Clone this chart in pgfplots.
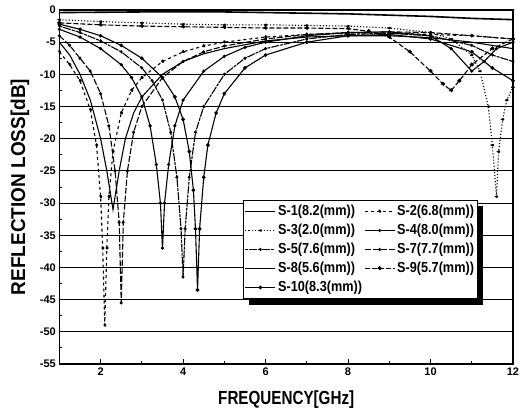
\documentclass[border=0pt]{standalone}
\usepackage{fontspec}
\setmainfont{Liberation Sans}
\newfontfamily\condx[FakeStretch=0.8]{Liberation Sans}
\newfontfamily\condy[FakeStretch=0.95]{Liberation Sans}
\newfontfamily\condl[FakeStretch=0.875]{Liberation Sans}
\usepackage{pgfplots}
\pgfplotsset{compat=1.18}
\begin{document}
\begin{tikzpicture}
\useasboundingbox (-59.4pt,-52pt) rectangle (463.6pt,364pt);
\begin{axis}[
  name=ax,
  scale only axis,
  width=453.6pt, height=354pt,
  xmin=1, xmax=12, ymin=-55, ymax=0,
  xtick={2,4,6,8,10,12},
  minor xtick={1,3,5,7,9,11},
  ytick={-55,-50,...,0},
  yticklabels={-55,-50,-45,-40,-35,-30,-25,-20,-15,-10,-5,0},
  minor ytick={-52.5,-47.5,...,-2.5},
  ymajorgrids,
  major grid style={black, line width=1pt},
  tick align=inside,
  major tick length=5pt, minor tick length=3pt,
  every tick/.style={black, line width=1pt},
  xtick pos=bottom, ytick pos=left,
  axis line style={line width=1.3pt},
  tick label style={font=\fontsize{11}{12}\selectfont\bfseries},
  /pgf/number format/assume math mode=true,
  xlabel={\condx\bfseries FREQUENCY[GHz]},
  ylabel={\condy\bfseries REFLECTION LOSS[dB]},
  xlabel style={font=\fontsize{19}{20}\selectfont, at={(axis description cs:0.5,0)}, anchor=center, yshift=-36pt},
  ylabel style={font=\fontsize{20}{21}\selectfont, at={(axis description cs:0,0.5)}, anchor=center, yshift=39.5pt},
  legend columns=2,
  legend style={name=leg, at={(0.405,0.4633)}, anchor=north west, draw=black, line width=0.9pt,
    font=\fontsize{14.5}{15}\selectfont\condl\bfseries, fill=white,
    inner xsep=1pt, inner ysep=3pt, row sep=3pt,
    /tikz/every even column/.append style={column sep=0pt}},
  legend cell align=left,
  legend image code/.code={\draw[mark repeat=2,mark phase=2] plot coordinates {(0pt,0pt) (15pt,0pt) (30pt,0pt)};},
  every axis plot/.append style={black, line width=1.1pt},
  mark size=1.3pt,
]
% S-1
\addplot[solid] coordinates {(1,-5)(1.25,-7)(1.5,-10)(1.75,-14)(2,-20)(2.15,-25)(2.3,-31)(2.45,-25)(2.6,-20)(2.8,-16)(3,-13.5)(3.5,-10)(4,-8)(4.5,-6.8)(5,-6)(6,-4.8)(7,-4.2)(8,-4)(9,-4)(10,-4.3)(11,-5)(12,-6)};
\addlegendentry{S-1(8.2(mm))}
% S-2
\addplot[dashed, mark=*] coordinates {(1,-6.5)(1.25,-8.5)(1.5,-11)(1.75,-15.5)(1.9,-21)(2.0,-29)(2.05,-37)(2.1,-49)(2.15,-37)(2.2,-29)(2.3,-22)(2.5,-16)(2.75,-12.5)(3,-10.5)(3.5,-8)(4,-6.5)(4.5,-5.6)(5,-5)(6,-4.2)(7,-3.8)(8,-3.6)(9,-3.6)(10,-3.8)(11,-4)(12,-4.5)};
\addlegendentry{S-2(6.8(mm))}
% S-3
\addplot[dotted, mark=*] coordinates {(1,-1.5)(2,-1.8)(3,-2)(4,-2.2)(5,-2.3)(6,-2.3)(7,-2.4)(8,-2.5)(9,-2.8)(10,-3.5)(10.5,-4.5)(11,-7)(11.2,-9.5)(11.4,-15)(11.5,-21)(11.6,-29)(11.65,-22)(11.75,-17)(11.85,-14)(12,-12)};
\addlegendentry{S-3(2.0(mm))}
% S-4
\addplot[solid, mark=*, mark size=1pt] coordinates {(1,-3)(1.5,-4.2)(2,-6)(2.5,-8.5)(2.75,-10.5)(3,-13.5)(3.2,-18)(3.35,-24)(3.45,-30)(3.5,-37)(3.55,-30)(3.65,-24)(3.8,-18)(4,-14)(4.5,-9.5)(5,-7.2)(5.5,-5.8)(6,-5)(7,-4)(8,-3.5)(9,-3.4)(10,-4)(10.5,-6)(11,-9.5)(11.3,-8)(11.6,-6)(12,-5)};
\addlegendentry{S-4(8.0(mm))}
% S-5
\addplot[dash pattern=on 3pt off 1pt on 8pt off 1pt, mark=*, mark size=1pt] coordinates {(1,-2.5)(1.5,-3.5)(2,-4.8)(2.5,-6.5)(3,-9)(3.25,-11)(3.5,-14)(3.7,-19)(3.85,-26)(3.95,-34)(4.0,-41.5)(4.05,-34)(4.15,-26)(4.3,-19)(4.5,-15)(5,-10)(5.5,-7.5)(6,-6)(7,-4.5)(8,-3.8)(9,-3.6)(10,-4)(11,-5.5)(11.5,-7)(12,-8)};
\addlegendentry{S-5(7.6(mm))}
% S-7
\addplot[dash pattern=on 6pt off 2pt, mark=*, mark size=1pt] coordinates {(1,-4)(1.25,-5.5)(1.5,-7.5)(1.75,-9.5)(2,-13)(2.2,-18)(2.35,-25)(2.45,-33)(2.5,-45.5)(2.55,-33)(2.65,-25)(2.8,-19)(3,-15)(3.5,-10.5)(4,-8)(4.5,-6.5)(5,-5.6)(6,-4.5)(7,-3.8)(8,-3.5)(9,-3.4)(10,-3.5)(11,-4)(12,-4.5)};
\addlegendentry{S-7(7.7(mm))}
% S-8
\addplot[solid, line width=1.6pt] coordinates {(1,-0.4)(2,-0.35)(3,-0.3)(4,-0.3)(5,-0.3)(6,-0.4)(7,-0.5)(8,-0.6)(9,-0.8)(10,-1.0)(11,-1.3)(12,-1.5)};
\addlegendentry{S-8(5.6(mm))}
% S-9
\addplot[dash pattern=on 5pt off 2pt, mark=*, mark size=1.6pt] coordinates {(1,-2)(2,-2.3)(3,-2.5)(4,-2.6)(5,-2.7)(6,-2.8)(7,-2.8)(8,-2.9)(8.5,-3.3)(9,-4.2)(9.5,-6.5)(10,-9.5)(10.3,-11.5)(10.5,-12.5)(10.7,-11)(11,-8.5)(11.5,-6)(12,-4.5)};
\addlegendentry{S-9(5.7(mm))}
% S-10
\addplot[solid, mark=*, mark size=1.3pt] coordinates {(1,-2.2)(1.5,-3)(2,-4)(2.5,-5.5)(3,-7.5)(3.5,-10.5)(3.8,-13.5)(4.0,-17)(4.15,-22)(4.25,-28)(4.3,-34)(4.35,-43.5)(4.4,-34)(4.5,-26)(4.6,-21)(4.8,-16)(5,-13)(5.5,-9)(6,-7)(7,-5)(8,-4)(9,-3.8)(10,-4.5)(11,-6.5)(11.5,-9)(12,-11)};
\addlegendentry{S-10(8.3(mm))}
\end{axis}
\fill[black] ([yshift=-6pt]leg.north east) rectangle ([xshift=6pt,yshift=-6pt]leg.south east);
\fill[black] ([xshift=6pt]leg.south west) rectangle ([yshift=-6pt]leg.south east);
\end{tikzpicture}
\end{document}
